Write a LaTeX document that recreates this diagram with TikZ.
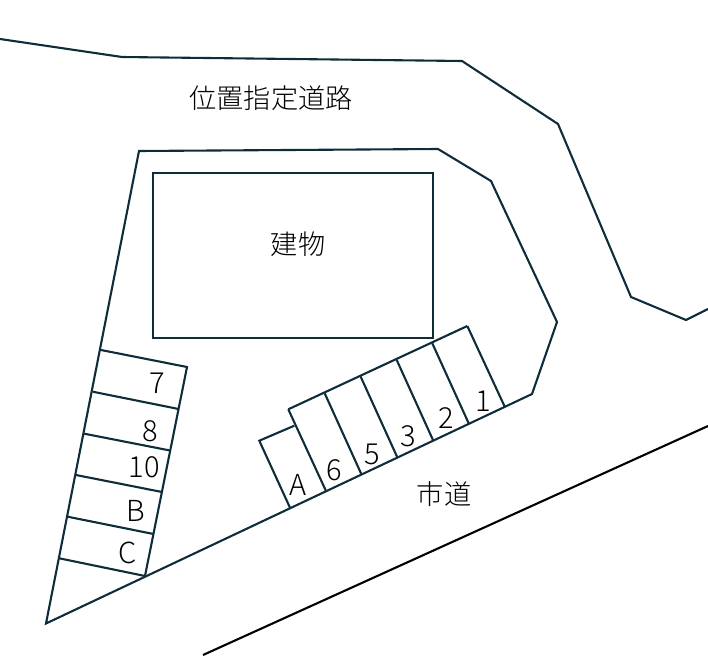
\documentclass[tikz,border=0pt]{standalone}
\usepackage{fontspec}
\setmainfont{Noto Sans CJK JP Light}
\definecolor{linec}{HTML}{0F2C3B}
\tikzset{
  wall/.style={draw=linec,line width=2.1pt,line join=miter},
  heavy/.style={draw=linec,line width=2.5pt},
  lbl/.style={inner sep=0pt,text=black,font=\fontsize{29}{32}\selectfont},
  lblw/.style={inner sep=0pt,text=black,font=\fontsize{27.2}{30}\selectfont}
}
\begin{document}
\begin{tikzpicture}[x=1pt,y=-1pt]
\useasboundingbox (0,0) rectangle (708,655);
% roads
\coordinate (r1) at (0,39); \coordinate (r2) at (122,57); \coordinate (r3) at (462,61);
\coordinate (r4) at (558,124); \coordinate (r5) at (631,297); \coordinate (r6) at (686,320); \coordinate (r7) at (708,309);
\draw[wall] (r1)--(r2)--(r3)--(r4)--(r5)--(r6)--(r7);
\coordinate (s1) at (203,655); \coordinate (s2) at (708,426);
\draw[draw=black,line width=2.1pt] (s1)--(s2);
% site
\coordinate (p1) at (139,151); \coordinate (p2) at (438,149); \coordinate (p3) at (491,181);
\coordinate (p4) at (557,322); \coordinate (p5) at (532,394); \coordinate (p6) at (46,623.5);
\draw[wall] (p1)--(p2)--(p3)--(p4)--(p5)--(p6)--cycle;
% building
\coordinate (b1) at (153,173); \coordinate (b2) at (433,338);
\draw[heavy] (b1) rectangle (b2);
% left lots
\coordinate (l0) at (101,350); \coordinate (m0) at (187,367);
\coordinate (l1) at (92.7,391.7); \coordinate (m1) at (178.6,409);
\coordinate (l2) at (84.3,433.7); \coordinate (m2) at (170,450.5);
\coordinate (l3) at (76,475); \coordinate (m3) at (162,492);
\coordinate (l4) at (67.7,516.7); \coordinate (m4) at (153.5,534);
\coordinate (l5) at (59.3,558.3); \coordinate (m5) at (145,576);
\draw[wall] (l0)--(m0)--(m5);
\foreach \i in {1,...,5} \draw[wall] (l\i)--(m\i);
% right lots
\coordinate (t0) at (288.3,409.3); \coordinate (u0) at (326,491);
\coordinate (t1) at (324.7,393.3); \coordinate (u1) at (361.3,474);
\coordinate (t2) at (360.7,376.7); \coordinate (u2) at (397.3,457.3);
\coordinate (t3) at (396.7,360); \coordinate (u3) at (433.3,440.7);
\coordinate (t4) at (432.3,343.3); \coordinate (u4) at (469,424);
\coordinate (t5) at (467.3,326); \coordinate (u5) at (505,407.3);
\draw[wall] (t0)--(t5);
\foreach \i in {0,...,5} \draw[wall] (t\i)--(u\i);
\coordinate (a1) at (294.3,425.7); \coordinate (a2) at (259.3,440.7); \coordinate (a3) at (290,507.7);
\draw[wall] (a1)--(a2)--(a3);
% labels
\node[lblw] (road) at (271,98) {位置指定道路};
\node[lblw] (bldg) at (298,244) {建物};
\node[lblw] (city) at (444,494) {市道};
\node[lbl] (n7) at (157,383) {7};
\node[lbl] (n8) at (150,431) {8};
\node[lbl] (n10) at (144,467) {10};
\node[lbl] (nB) at (136,511) {B};
\node[lbl] (nC) at (128,553) {C};
\node[lbl] (nA) at (298,485) {A};
\node[lbl] (n6) at (334,470) {6};
\node[lbl] (n5) at (372,454) {5};
\node[lbl] (n3) at (408,436) {3};
\node[lbl] (n2) at (446,418) {2};
\node[lbl] (n1) at (483,401) {1};
\end{tikzpicture}
\end{document}
